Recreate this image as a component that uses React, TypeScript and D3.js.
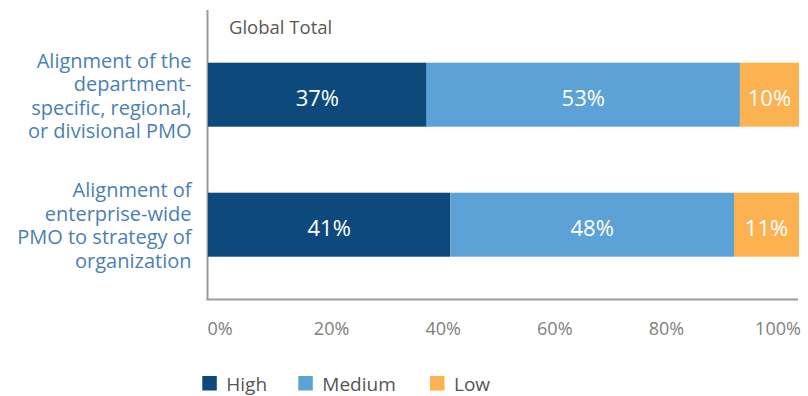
import React from "react";
import * as d3 from "d3";

const categories: string[][] = [
  ["Alignment of the", "department-", "specific, regional,", "or divisional PMO"],
  ["Alignment of", "enterprise-wide", "PMO to strategy of", "organization"],
];
const seriesNames = ["High", "Medium", "Low"];
const high = [37, 41];
const medium = [53, 48];
const low = [10, 11];
const tickValues = [0, 20, 40, 60, 80, 100];
const title = "Global Total";
const colors = ["#0d4a7b", "#5ca2d6", "#fcb251"];

const W = 808;
const H = 396;
const FONT = "'Open Sans', sans-serif";

export default function App() {
  const x = d3.scaleLinear().domain([0, 100]).range([208, 799]);
  const xTick = d3.scaleLinear().domain([0, 100]).range([220, 778]);
  const rows = categories.map((_, i) => [high[i], medium[i], low[i]]);
  const stack = rows.map((vals) => {
    let acc = 0;
    return vals.map((v) => {
      const s = acc;
      acc += v;
      return [s, acc];
    });
  });
  const barH = 64;
  const barCenters = [94.7, 224.7];

  return (
    <svg
      width={W}
      height={H}
      style={{ position: "absolute", left: 0, top: 0, background: "#fff" }}
      fontFamily={FONT}
    >
      <line x1={207.5} x2={207.5} y1={10} y2={299.5} stroke="#9b9b9b" strokeWidth={2} />
      <line x1={206.5} x2={798} y1={299.5} y2={299.5} stroke="#9b9b9b" strokeWidth={2} />
      <text x={229} y={33.5} fontSize={18.5} fill="#585858">
        {title}
      </text>
      {stack.map((segs, i) => {
        const cy = barCenters[i];
        const y0 = cy - 27 + (i === 1 ? -0.5 : 0);
        return (
          <g key={i}>
            {segs.map(([s, e], j) => (
              <g key={j}>
                <rect
                  x={x(s)}
                  y={cy - barH / 2}
                  width={x(e) - x(s)}
                  height={barH}
                  fill={colors[j]}
                />
                <text
                  x={(x(s) + x(e)) / 2}
                  y={cy + 11}
                  textAnchor="middle"
                  fontSize={22}
                  fill="#fff"
                >
                  {rows[i][j]}%
                </text>
              </g>
            ))}
            <text x={191.5} y={y0} textAnchor="end" fontSize={20} fill="#4a7fb5">
              {categories[i].map((line, k) => (
                <tspan key={k} x={191.5} y={y0 + k * 23.5}>
                  {line}
                </tspan>
              ))}
            </text>
          </g>
        );
      })}
      {tickValues.map((t) => (
        <text key={t} x={xTick(t)} y={335} textAnchor="middle" fontSize={18} fill="#808080">
          {t}%
        </text>
      ))}
      {seriesNames.map((n, i) => {
        const lx = [202.3, 298.3, 430][i];
        return (
          <g key={n}>
            <rect x={lx} y={376} width={14.5} height={14.5} fill={colors[i]} />
            <text x={lx + 24} y={390.5} fontSize={19} fill="#555">
              {n}
            </text>
          </g>
        );
      })}
    </svg>
  );
}
